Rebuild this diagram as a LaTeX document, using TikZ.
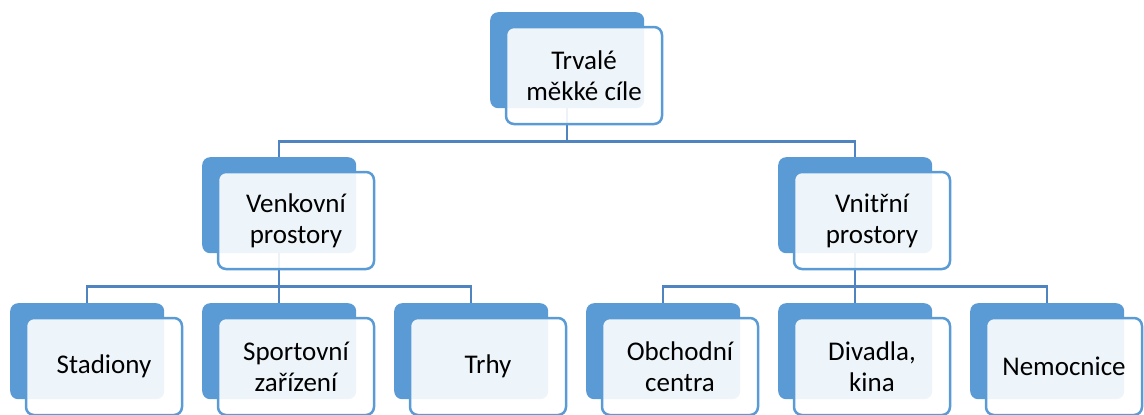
\documentclass[tikz,border=0pt]{standalone}
\usepackage{fontspec}
\setmainfont{Carlito}
\definecolor{officeblue}{HTML}{5B9BD5}
\definecolor{linkblue}{HTML}{4F84C0}
\begin{document}
\begin{tikzpicture}[x=1pt,y=-1pt,
  backbox/.style={draw=none,fill=officeblue,rounded corners=8pt,minimum width=154pt,minimum height=96pt,anchor=north west,inner sep=0pt},
  frontbox/.style={draw=officeblue,line width=2.5pt,fill=white,fill opacity=0.9,text opacity=1,rounded corners=8pt,minimum width=156pt,minimum height=97pt,align=center,inner sep=0pt,font=\fontsize{27}{31}\selectfont},
  link/.style={draw=linkblue,line width=2.2pt}]
\useasboundingbox (0,0) rectangle (1144,415);
% back boxes
\node[backbox] (tb) at (490,12) {};
\node[backbox] (ab) at (202,157) {};
\node[backbox] (bb) at (778,157) {};
\node[backbox] (a1b) at (10,303) {};
\node[backbox] (a2b) at (202,303) {};
\node[backbox] (a3b) at (394,303) {};
\node[backbox] (b1b) at (586,303) {};
\node[backbox] (b2b) at (778,303) {};
\node[backbox] (b3b) at (970,303) {};
% connectors
\draw[link] (tb.south) -- ++(0,33) coordinate (th) -| (ab.north);
\draw[link] (th) -| (bb.north);
\draw[link] (ab.south) -- ++(0,33) coordinate (ah) -| (a1b.north);
\draw[link] (ah) -- (a2b.north);
\draw[link] (ah) -| (a3b.north);
\draw[link] (bb.south) -- ++(0,33) coordinate (bh) -| (b1b.north);
\draw[link] (bh) -- (b2b.north);
\draw[link] (bh) -| (b3b.north);
% front boxes
\node[frontbox] (tf) at ([shift={(94,63.5)}]tb.north west) {Trvalé\\měkké cíle};
\node[frontbox] (af) at ([shift={(94,63.5)}]ab.north west) {Venkovní\\prostory};
\node[frontbox] (bf) at ([shift={(94,63.5)}]bb.north west) {Vnitřní\\prostory};
\node[frontbox] (a1f) at ([shift={(94,63.5)}]a1b.north west) {Stadiony};
\node[frontbox] (a2f) at ([shift={(94,63.5)}]a2b.north west) {Sportovní\\zařízení};
\node[frontbox] (a3f) at ([shift={(94,63.5)}]a3b.north west) {Trhy};
\node[frontbox] (b1f) at ([shift={(94,63.5)}]b1b.north west) {Obchodní\\centra};
\node[frontbox] (b2f) at ([shift={(94,63.5)}]b2b.north west) {Divadla,\\kina};
\node[frontbox] (b3f) at ([shift={(94,63.5)}]b3b.north west) {Nemocnice};
\end{tikzpicture}
\end{document}
